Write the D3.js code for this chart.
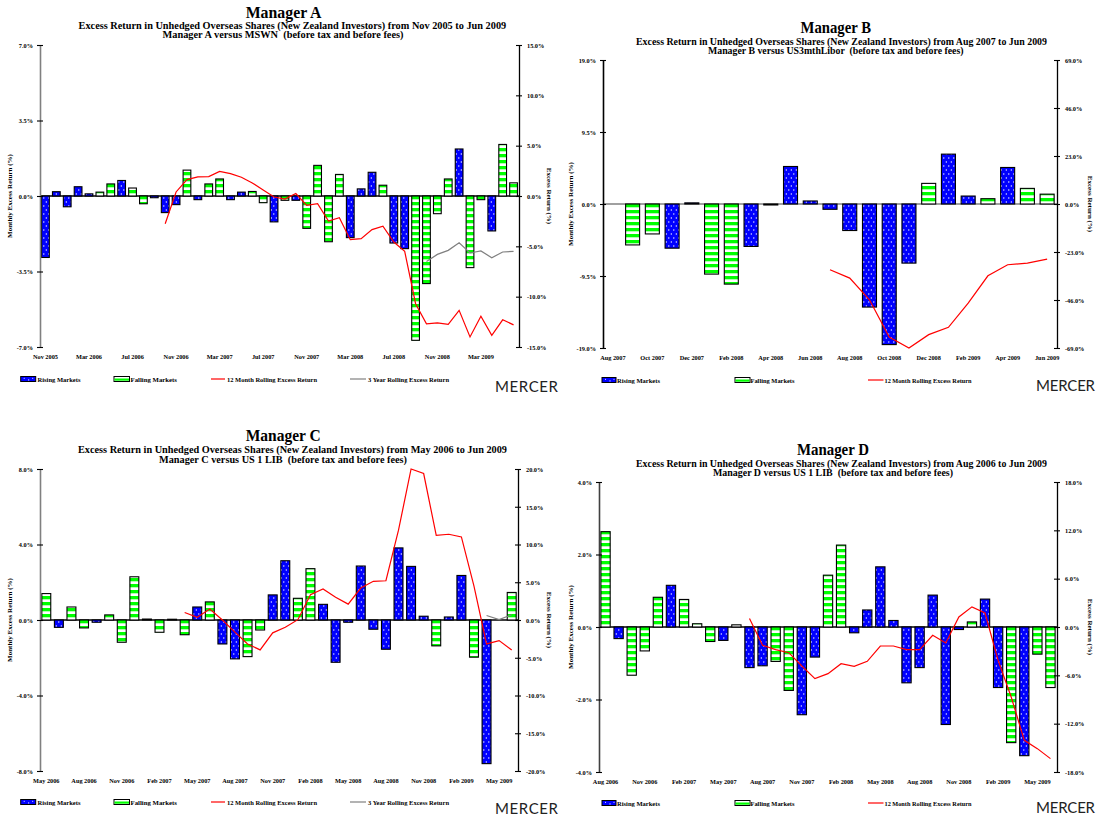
<!DOCTYPE html>
<html>
<head>
<meta charset="utf-8">
<script src="https://cdn.jsdelivr.net/npm/d3@7"></script>
<style>
  body { margin: 0; background: #fff; }
  svg text { font-family: "Liberation Serif", "Times New Roman", serif; font-weight: bold; fill: #000; }
  svg text.mercer { font-family: Lato, "Open Sans", sans-serif; font-weight: normal; fill: #222; }
  svg text.pre { white-space: pre; }
</style>
</head>
<body>
<svg id="chart" width="1102" height="819"></svg>
<script>
// ---------- Manager A (vs MSWN) ----------
const aPeriod = ["Nov 2005", "Jun 2009"];
const aTicks = ["Nov 2005", "Mar 2006", "Jul 2006", "Nov 2006", "Mar 2007", "Jul 2007",
                "Nov 2007", "Mar 2008", "Jul 2008", "Nov 2008", "Mar 2009"];
const aMonthly = [-2.85, 0.20, -0.50, 0.43, 0.10, 0.18, 0.56, 0.72, 0.37, -0.36,
                  -0.08, -0.77, -0.40, 1.20, -0.17, 0.56, 0.79, -0.17, 0.18, 0.21,
                  -0.31, -1.20, -0.20, -0.20, -1.50, 1.42, -2.12, 1.00, -1.93, 0.33,
                  1.10, 0.50, -2.18, -2.44, -6.69, -4.06, -0.82, 0.79, 2.18, -3.32,
                  -0.17, -1.62, 2.39, 0.61];
// R = rising market month, F = falling market month
const aMarket = ("RRRRRFFRFF" + "RRRFRFFRRF" + "FRFRFFFFRR" + "RFRRFFFFRF" + "FRFF").split("");
const aRolling12Start = "Oct 2006";
const aRolling12 = [-2.75, 0.40, 1.63, 1.90, 1.93, 2.45, 2.22, 1.86, 1.30, 0.60,
                    -0.10, -0.30, 0.25, -0.93, -0.76, -2.48, -2.15, -4.34, -4.24, -3.34,
                    -3.00, -4.57, -5.50, -10.70, -12.70, -12.60, -12.75, -11.36, -14.00, -11.95,
                    -13.84, -12.30, -12.80];
const aRolling36Start = "Oct 2008";
const aRolling36 = [-6.50, -5.80, -5.40, -4.64, -5.66, -5.46, -6.13, -5.56, -5.50];

// ---------- Manager B (vs US3mthLibor) ----------
const bPeriod = ["Aug 2007", "Jun 2009"];
const bTicks = ["Aug 2007", "Oct 2007", "Dec 2007", "Feb 2008", "Apr 2008", "Jun 2008",
                "Aug 2008", "Oct 2008", "Dec 2008", "Feb 2009", "Apr 2009", "Jun 2009"];
const bMonthly = [null, -5.40, -3.95, -5.83, 0.15, -9.25, -10.57, -5.60, -0.13, 4.95,
                  0.40, -0.70, -3.50, -13.60, -18.55, -7.80, 2.72, 6.58, 1.05, 0.70,
                  4.82, 2.06, 1.30];
const bMarket = ("RFFRRFFRRR" + "RRRRRRFRRF" + "RFF").split("");
const bRolling12Start = "Jul 2008";
const bRolling12 = [-31.5, -35.5, -45.9, -63.7, -69.0, -62.6, -59.1, -47.5, -34.4, -29.1,
                    -28.3, -26.4];

// ---------- Manager C (vs US 1 LIB) ----------
const cPeriod = ["May 2006", "Jun 2009"];
const cTicks = ["May 2006", "Aug 2006", "Nov 2006", "Feb 2007", "May 2007", "Aug 2007", "Nov 2007",
                "Feb 2008", "May 2008", "Aug 2008", "Nov 2008", "Feb 2009", "May 2009"];
const cMonthly = [1.40, -0.39, 0.69, -0.42, -0.12, 0.27, -1.18, 2.29, 0.05, -0.65,
                  0.04, -0.78, 0.69, 0.96, -1.27, -2.06, -1.94, -0.53, 1.33, 3.14,
                  1.15, 2.72, 0.83, -2.24, -0.12, 2.86, -0.49, -1.55, 3.82, 2.84,
                  0.20, -1.37, 0.16, 2.36, -1.97, -7.61, null, 1.46];
const cMarket = ("FRFFRFFFRF" + "FFRFRRFFRR" + "FFRRRRRRRR" + "RFRRFRRF").split("");
const cRolling12Start = "Apr 2007";
const cRolling12 = [1.00, 0.35, 1.45, 0.00, -1.60, -3.17, -3.96, -1.70, -0.97, 0.04,
                    3.34, 4.10, 3.00, 2.10, 4.23, 5.12, 5.20, 11.90, 20.00, 19.40,
                    11.20, 11.36, 11.00, 4.50, -3.17, -2.73, -3.96];
const cRolling36Start = "Apr 2009";
const cRolling36 = [0.60, 0.05, 0.70];

// ---------- Manager D (vs US 1 LIB) ----------
const dPeriod = ["Aug 2006", "Jun 2009"];
const dTicks = ["Aug 2006", "Nov 2006", "Feb 2007", "May 2007", "Aug 2007", "Nov 2007",
                "Feb 2008", "May 2008", "Aug 2008", "Nov 2008", "Feb 2009", "May 2009"];
const dMonthly = [2.63, -0.32, -1.33, -0.66, 0.82, 1.15, 0.76, 0.09, -0.40, -0.37,
                  0.06, -1.12, -1.07, -0.95, -1.75, -2.42, -0.83, 1.43, 2.26, -0.16,
                  0.47, 1.66, 0.18, -1.54, -1.12, 0.88, -2.69, -0.07, 0.14, 0.77,
                  -1.67, -3.19, -3.55, -0.75, -1.67];
const dMarket = ("FRFFFRFFFR" + "FRRFFRRFFR" + "RRRRRRRRFR" + "RFRFF").split("");
const dRolling12Start = "Jul 2007";
const dRolling12 = [1.05, -2.28, -2.81, -3.19, -4.84, -6.41, -5.79, -4.55, -4.88, -4.26,
                    -2.36, -2.36, -2.81, -2.81, -1.03, -1.99, 1.24, 2.50, 1.74, -4.14,
                    -8.69, -14.07, -15.10, -16.34];

// ---------- axis ranges ----------
const aLeftTicks = [-7, -3.5, 0, 3.5, 7], aRightTicks = [-15, -10, -5, 0, 5, 10, 15];
const bLeftTicks = [-19, -9.5, 0, 9.5, 19], bRightTicks = [-69, -46, -23, 0, 23, 46, 69];
const cLeftTicks = [-8, -4, 0, 4, 8], cRightTicks = [-20, -15, -10, -5, 0, 5, 10, 15, 20];
const dLeftTicks = [-4, -2, 0, 2, 4], dRightTicks = [-18, -12, -6, 0, 6, 12, 18];

const subtitle = (from) =>
  `Excess Return in Unhedged Overseas Shares (New Zealand Investors) from ${from} to Jun 2009`;

// ---------- layout ----------
const legendLeft = {
  sw1: [20.7, 15], t1: [37.5, 43], sw2: [114, 15.5], t2: [130.5, 46.5],
  ln3: [211, 225], t3: [227, 90], ln4: [350, 366], t4: [368, 81]
};
const legendRight = {
  sw1: [602, 14], t1: [617, 43], sw2: [735, 15], t2: [750.5, 44],
  ln3: [868, 883.5], t3: [884.5, 87]
};

const panels = [
  { id: "a", name: "Manager A", period: aPeriod, ticks: aTicks, monthly: aMonthly, market: aMarket,
    r12: aRolling12, r12Start: aRolling12Start, r36: aRolling36, r36Start: aRolling36Start,
    leftTicks: aLeftTicks, rightTicks: aRightTicks,
    sub1: subtitle("Nov 2005"), sub2: "Manager A versus MSWN  (before tax and before fees)",
    left: 40, right: 519, top: 45, bottom: 347, labelBase: 359,
    leftAxisColor: "#808080", zeroColor: "#000",
    title: [245.7, 17.5, 75.7], s1: [78.6, 28.5, 427.6], s2: [162.5, 37.5, 241],
    leftTitleX: 12, rightTitleX: 547, legendY: 379, legend: legendLeft, mercer: [495, 392, 63] },
  { id: "b", name: "Manager B", period: bPeriod, ticks: bTicks, monthly: bMonthly, market: bMarket,
    r12: bRolling12, r12Start: bRolling12Start, r36: null,
    leftTicks: bLeftTicks, rightTicks: bRightTicks,
    sub1: subtitle("Aug 2007"), sub2: "Manager B versus US3mthLibor  (before tax and before fees)",
    left: 603, right: 1057, top: 60, bottom: 348, labelBase: 360,
    leftAxisColor: "#000", zeroColor: "#808080",
    title: [800.5, 32.5, 70.5], s1: [636, 44.5, 411], s2: [708, 53.5, 255.5],
    leftTitleX: 572.5, rightTitleX: 1088, legendY: 380, legend: legendRight, mercer: [1036, 391, 59] },
  { id: "c", name: "Manager C", period: cPeriod, ticks: cTicks, monthly: cMonthly, market: cMarket,
    r12: cRolling12, r12Start: cRolling12Start, r36: cRolling36, r36Start: cRolling36Start,
    leftTicks: cLeftTicks, rightTicks: cRightTicks,
    sub1: subtitle("May 2006"), sub2: "Manager C versus US 1 LIB  (before tax and before fees)",
    left: 40, right: 518, top: 469, bottom: 771, labelBase: 782.5,
    leftAxisColor: "#808080", zeroColor: "#000",
    title: [245.7, 441, 75], s1: [78, 453, 429], s2: [159, 462.5, 248],
    leftTitleX: 12, rightTitleX: 547, legendY: 802, legend: legendLeft, mercer: [495, 814, 63] },
  { id: "d", name: "Manager D", period: dPeriod, ticks: dTicks, monthly: dMonthly, market: dMarket,
    r12: dRolling12, r12Start: dRolling12Start, r36: null,
    leftTicks: dLeftTicks, rightTicks: dRightTicks,
    sub1: subtitle("Aug 2006"), sub2: "Manager D versus US 1 LIB  (before tax and before fees)",
    left: 599, right: 1057, top: 482, bottom: 772, labelBase: 783.5,
    leftAxisColor: "#404040", zeroColor: "#000",
    title: [797, 454.5, 72], s1: [636, 466.5, 411], s2: [713, 475.5, 240],
    leftTitleX: 572.5, rightTitleX: 1088, legendY: 803, legend: legendRight, mercer: [1036, 813, 59] }
];

const BLUE = "#0000ff", GREEN = "#00ff00", RED = "#ff0000", GREY = "#808080";

const svg = d3.select("#chart");
svg.append("rect").attr("width", 1102).attr("height", 819).attr("fill", "#fff");
const defs = svg.append("defs");

// rising months: blue with white dots
const dots = defs.append("pattern").attr("id", "dots")
  .attr("patternUnits", "userSpaceOnUse").attr("width", 5).attr("height", 8);
dots.append("rect").attr("width", 5).attr("height", 8).attr("fill", BLUE);
dots.append("circle").attr("cx", 1.3).attr("cy", 2).attr("r", 0.65).attr("fill", "#fff");
dots.append("circle").attr("cx", 3.8).attr("cy", 6).attr("r", 0.65).attr("fill", "#fff");

// falling months: green and white horizontal stripes, aligned to each zero line
function stripes(id, y0) {
  const p = defs.append("pattern").attr("id", id)
    .attr("patternUnits", "userSpaceOnUse").attr("width", 6).attr("height", 6).attr("y", y0);
  p.append("rect").attr("width", 6).attr("height", 6).attr("fill", "#fff");
  p.append("rect").attr("width", 6).attr("height", 3.3).attr("fill", GREEN);
}

const parseMonth = d3.timeParse("%b %Y");
const fmtMonth = d3.timeFormat("%b %Y");
function months(first, last) {
  return d3.timeMonth.range(parseMonth(first), d3.timeMonth.offset(parseMonth(last), 1)).map(fmtMonth);
}

function squeeze(sel, k) {
  sel.each(function () {
    const n = this.getComputedTextLength();
    this.setAttribute("textLength", (n * k).toFixed(2));
    this.setAttribute("lengthAdjust", "spacingAndGlyphs");
  });
}
function fitText(g, txt, x, y, w, size, cls) {
  return g.append("text").attr("class", cls || null).attr("x", x).attr("y", y)
    .attr("font-size", size).attr("textLength", w).attr("lengthAdjust", "spacingAndGlyphs").text(txt);
}

function drawPanel(p) {
  const g = svg.append("g").attr("class", "panel-" + p.id);
  const cats = months(p.period[0], p.period[1]);
  const x = d3.scaleBand().domain(cats).range([p.left, p.right]).paddingInner(0.29).paddingOuter(0.145);
  const yL = d3.scaleLinear().domain([d3.min(p.leftTicks), d3.max(p.leftTicks)]).range([p.bottom, p.top]);
  const yR = d3.scaleLinear().domain([d3.min(p.rightTicks), d3.max(p.rightTicks)]).range([p.bottom, p.top]);
  const zeroY = yL(0);
  const stripeId = "stripes-" + p.id;
  stripes(stripeId, zeroY);
  const cx = c => x(c) + x.bandwidth() / 2;

  // titles
  fitText(g, p.name, p.title[0], p.title[1], p.title[2], 16.5);
  fitText(g, p.sub1, p.s1[0], p.s1[1], p.s1[2], 9.5);
  fitText(g, p.sub2, p.s2[0], p.s2[1], p.s2[2], 9.5, "pre");

  // zero line
  g.append("line").attr("x1", p.left).attr("x2", p.right).attr("y1", zeroY).attr("y2", zeroY)
    .attr("stroke", p.zeroColor).attr("stroke-width", 1.3);

  // monthly excess return bars
  const bars = cats.map((c, i) => ({ c, v: p.monthly[i], m: p.market[i] })).filter(d => d.v != null);
  g.append("g").selectAll("rect").data(bars).join("rect")
    .attr("x", d => x(d.c)).attr("width", x.bandwidth())
    .attr("y", d => yL(Math.max(0, d.v)))
    .attr("height", d => Math.abs(yL(d.v) - zeroY))
    .attr("fill", d => d.m === "R" ? "url(#dots)" : `url(#${stripeId})`)
    .attr("stroke", "#000").attr("stroke-width", 1.1);

  // rolling excess return lines (right axis)
  const line = d3.line().x(d => cx(d.c)).y(d => yR(d.v));
  const series = (vals, start) => { const s = cats.indexOf(start); return vals.map((v, i) => ({ c: cats[s + i], v })); };
  if (p.r36) {
    g.append("path").datum(series(p.r36, p.r36Start)).attr("d", line)
      .attr("fill", "none").attr("stroke", GREY).attr("stroke-width", 1.2);
  }
  g.append("path").datum(series(p.r12, p.r12Start)).attr("d", line)
    .attr("fill", "none").attr("stroke", RED).attr("stroke-width", 1.2);

  // left axis
  const gL = g.append("g").attr("transform", `translate(${p.left},0)`)
    .call(d3.axisLeft(yL).tickValues(p.leftTicks).tickFormat(d => d.toFixed(1) + "%")
      .tickSizeInner(3).tickSizeOuter(0).tickPadding(4));
  gL.attr("font-family", null).attr("font-size", 7);
  gL.select(".domain").attr("stroke", p.leftAxisColor).attr("stroke-width", 1.6);
  gL.selectAll(".tick line").attr("x1", 3).attr("stroke", "#000").attr("stroke-width", 1.1);
  squeeze(gL.selectAll("text"), 0.9);

  // right axis
  const gR = g.append("g").attr("transform", `translate(${p.right},0)`)
    .call(d3.axisRight(yR).tickValues(p.rightTicks).tickFormat(d => d.toFixed(1) + "%")
      .tickSizeInner(3).tickSizeOuter(0).tickPadding(5));
  gR.attr("font-family", null).attr("font-size", 7);
  gR.select(".domain").attr("stroke", "#000").attr("stroke-width", 1.3);
  gR.selectAll(".tick line").attr("x1", -3).attr("stroke", "#000").attr("stroke-width", 1.1);
  squeeze(gR.selectAll("text"), 0.9);

  // month labels
  const gB = g.append("g").attr("transform", `translate(0,${p.labelBase})`)
    .call(d3.axisBottom(x).tickValues(p.ticks).tickSize(0).tickPadding(0));
  gB.attr("font-family", null).attr("font-size", 7);
  gB.select(".domain").remove();
  gB.selectAll("text").attr("dy", 0).attr("y", 0);
  squeeze(gB.selectAll("text"), 0.9);

  // axis titles
  const midY = (p.top + p.bottom) / 2;
  g.append("text").attr("transform", `translate(${p.leftTitleX},${midY}) rotate(-90)`)
    .attr("text-anchor", "middle").attr("font-size", 7).text("Monthly Excess Return (%)");
  g.append("text").attr("transform", `translate(${p.rightTitleX},${midY}) rotate(90)`)
    .attr("text-anchor", "middle").attr("font-size", 7).text("Excess Return (%)");

  // legend
  const L = p.legend, ly = p.legendY, tb = ly + 2.5;
  g.append("rect").attr("x", L.sw1[0]).attr("y", ly - 2.5).attr("width", L.sw1[1]).attr("height", 5)
    .attr("fill", BLUE).attr("stroke", "#000").attr("stroke-width", 1);
  [[3.5, -0.8], [8, 0.9], [12, -0.8]].forEach(([dx, dy]) =>
    g.append("circle").attr("cx", L.sw1[0] + dx).attr("cy", ly + dy).attr("r", 0.55).attr("fill", "#fff"));
  fitText(g, "Rising Markets", L.t1[0], tb, L.t1[1], 7);
  g.append("rect").attr("x", L.sw2[0]).attr("y", ly - 2.5).attr("width", L.sw2[1]).attr("height", 5)
    .attr("fill", "#fff").attr("stroke", "#000").attr("stroke-width", 1);
  g.append("rect").attr("x", L.sw2[0] + 0.5).attr("y", ly - 0.5).attr("width", L.sw2[1] - 1).attr("height", 2.2)
    .attr("fill", GREEN);
  fitText(g, "Falling Markets", L.t2[0], tb, L.t2[1], 7);
  g.append("line").attr("x1", L.ln3[0]).attr("x2", L.ln3[1]).attr("y1", ly).attr("y2", ly)
    .attr("stroke", RED).attr("stroke-width", 1.2);
  fitText(g, "12 Month Rolling Excess Return", L.t3[0], tb, L.t3[1], 7);
  if (L.ln4) {
    g.append("line").attr("x1", L.ln4[0]).attr("x2", L.ln4[1]).attr("y1", ly).attr("y2", ly)
      .attr("stroke", GREY).attr("stroke-width", 1.2);
    fitText(g, "3 Year Rolling Excess Return", L.t4[0], tb, L.t4[1], 7);
  }
  g.append("text").attr("class", "mercer").attr("x", p.mercer[0]).attr("y", p.mercer[1])
    .attr("font-size", 15).attr("textLength", p.mercer[2]).attr("lengthAdjust", "spacing").text("MERCER");
}

panels.forEach(drawPanel);
</script>
</body>
</html>
